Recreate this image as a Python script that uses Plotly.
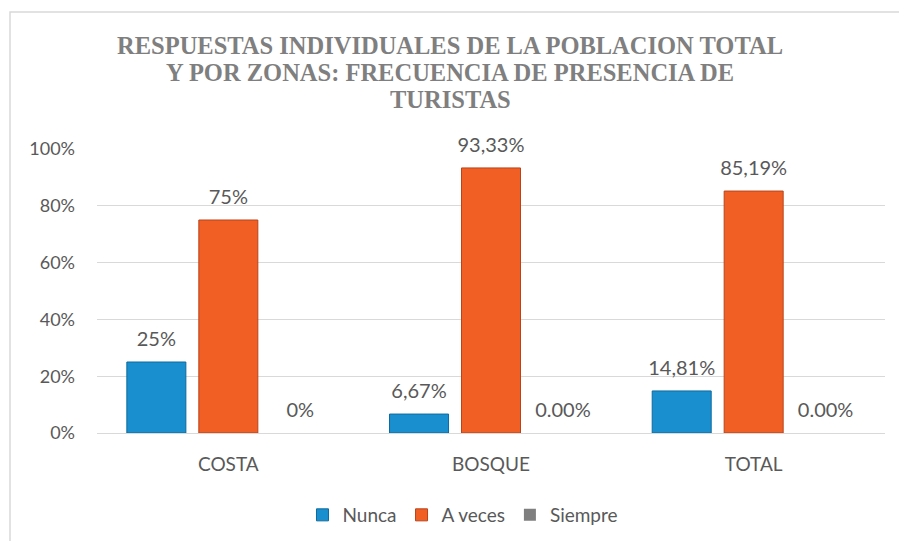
import plotly.graph_objects as go

categories = ["COSTA", "BOSQUE", "TOTAL"]
series_names = ["Nunca", "A veces", "Siempre"]
nunca = [0.25, 0.0667, 0.1481]
a_veces = [0.75, 0.9333, 0.8519]
siempre = [0.0, 0.0, 0.0]
nunca_labels = ["25%", "6,67%", "14,81%"]
a_veces_labels = ["75%", "93,33%", "85,19%"]
siempre_labels = ["0%", "0.00%", "0.00%"]
y_ticks = [0, 0.2, 0.4, 0.6, 0.8, 1.0]
y_tick_labels = ["0%", "20%", "40%", "60%", "80%", "100%"]
title_lines = ["RESPUESTAS INDIVIDUALES DE LA POBLACION TOTAL",
               "Y POR ZONAS: FRECUENCIA DE PRESENCIA DE",
               "TURISTAS"]

colors = ["#1a8fcf", "#f15f25", "#7f7f7f"]
edges = ["#0d6a9e", "#b8431a", "#7f7f7f"]
font_main = "Lato, 'Open Sans', sans-serif"
txt_color = "#595959"

W, H, L, R, T, B = 899, 541, 97, 14, 149, 108
plot_h = H - T - B
plot_w = W - L - R

fig = go.Figure()
all_vals = [nunca, a_veces, siempre]
all_labels = [nunca_labels, a_veces_labels, siempre_labels]
for i, (name, vals, c, e) in enumerate(zip(series_names, all_vals, colors, edges)):
    fig.add_trace(go.Bar(
        name=name, x=categories, y=vals, offsetgroup=str(i),
        marker=dict(color=c, line=dict(color=e, width=1 if i < 2 else 0)),
        hoverinfo="skip",
    ))
for i, (vals, labels) in enumerate(zip(all_vals, all_labels)):
    fig.add_trace(go.Scatter(
        x=categories, y=vals, text=labels, mode="markers+text", offsetgroup=str(i),
        textposition="top center", cliponaxis=False, showlegend=False,
        marker=dict(size=16, opacity=0),
        textfont=dict(family=font_main, size=20, color=txt_color),
        hoverinfo="skip",
    ))

annotations = []
for k, line in enumerate(title_lines):
    py = 45 + k * 27.5
    annotations.append(dict(
        text=line, xref="paper", x=(450 - L) / plot_w, xanchor="center",
        yref="paper", y=(H - B - py) / plot_h, yanchor="middle", showarrow=False,
        font=dict(family="'Liberation Serif', 'Times New Roman', serif", size=24.5,
                  color="#7f7f7f", weight="bold"),
    ))

fig.update_layout(
    width=W, height=H,
    paper_bgcolor="white", plot_bgcolor="white",
    margin=dict(l=L, r=R, t=T, b=B, autoexpand=False),
    barmode="group", bargap=0.178, bargroupgap=0.18,
    scattermode="group", scattergap=0.178,
    annotations=annotations,
    showlegend=True,
    legend=dict(
        orientation="h", x=0.515, xref="container", xanchor="center",
        y=1 - 515 / H, yref="container", yanchor="middle",
        font=dict(family=font_main, size=19, color=txt_color),
        itemwidth=30, tracegroupgap=0,
    ),
    font=dict(family=font_main, color=txt_color),
    shapes=[dict(type="rect", xref="paper", yref="paper",
                 x0=(10 - L) / plot_w, x1=1.1, y0=-0.6, y1=1 + (T - 12) / plot_h,
                 line=dict(color="#d9d9d9", width=1.5), fillcolor="rgba(0,0,0,0)", layer="below")],
)
fig.update_xaxes(
    showgrid=False, showline=False, ticks="",
    tickfont=dict(family=font_main, size=19, color=txt_color),
    ticklabelstandoff=18,
)
fig.update_yaxes(
    range=[0, 1], tickvals=y_ticks, ticktext=y_tick_labels,
    showgrid=True, gridcolor="#d9d9d9", gridwidth=1,
    zeroline=True, zerolinecolor="#d9d9d9", zerolinewidth=1,
    showline=False, ticks="",
    tickfont=dict(family=font_main, size=18, color=txt_color),
    ticklabelstandoff=21,
)

fig.write_html("out.html", config={"displayModeBar": False},
               post_script="document.body.style.margin='0';document.body.style.overflow='hidden';")
